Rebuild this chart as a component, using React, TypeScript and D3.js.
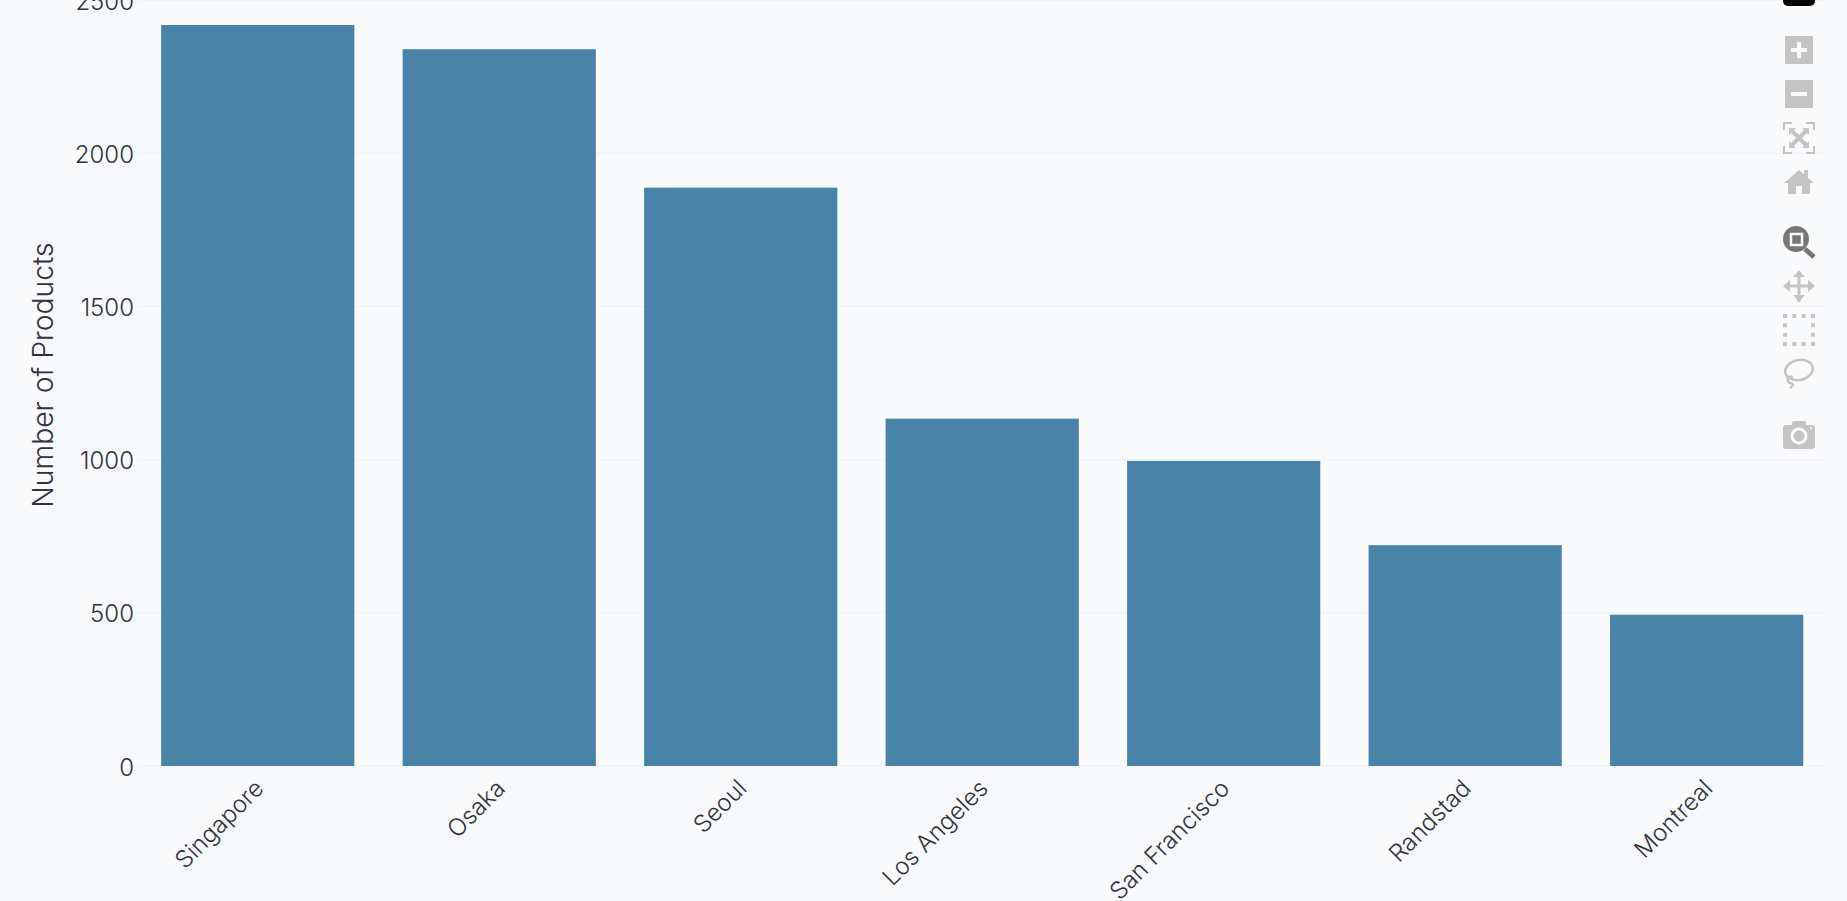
import { useEffect, useRef } from "react";
import * as d3 from "d3";

const cities = ["Singapore", "Osaka", "Seoul", "Los Angeles", "San Francisco", "Randstad", "Montreal"];
const products = [2419, 2340, 1888, 1134, 996, 721, 494];
const yTicks = [0, 500, 1000, 1500, 2000, 2500];

const width = 1847;
const height = 901;
const font = "Inter, sans-serif";
const textColor = "#33333b";
const barColor = "#4983a8";
const bg = "#f8fafc";
const iconLight = "#c4c4c4";

export default function App() {
  const ref = useRef<SVGSVGElement>(null);

  useEffect(() => {
    const svg = d3.select(ref.current);
    svg.selectAll("*").remove();
    svg.append("rect").attr("width", width).attr("height", height).attr("fill", bg);

    const x = d3.scaleBand().domain(cities).range([137, 1827.4]).paddingInner(0.2).paddingOuter(0.1);
    const y = d3.scaleLinear().domain([0, 2500]).range([766, 0.2]);

    // Grid
    svg.append("g")
      .selectAll("line")
      .data(yTicks)
      .join("line")
      .attr("x1", 138)
      .attr("x2", 1827)
      .attr("y1", d => y(d))
      .attr("y2", d => y(d))
      .attr("stroke", "#eff1f4")
      .attr("stroke-width", 1);

    // Bars
    svg.append("g")
      .selectAll("rect")
      .data(cities)
      .join("rect")
      .attr("x", d => x(d)!)
      .attr("y", (_, i) => y(products[i]))
      .attr("width", x.bandwidth())
      .attr("height", (_, i) => y(0) - y(products[i]))
      .attr("fill", barColor);

    // Y tick labels
    svg.append("g")
      .selectAll("text")
      .data(yTicks)
      .join("text")
      .attr("x", 134)
      .attr("y", d => y(d) + 1)
      .attr("dy", "0.36em")
      .attr("text-anchor", "end")
      .attr("font-family", font)
      .attr("font-size", 24)
      .attr("font-weight", 300)
      .attr("fill", textColor)
      .text(d => d);

    // X tick labels, rotated like the original
    svg.append("g")
      .selectAll("text")
      .data(cities)
      .join("text")
      .attr("transform", d => `translate(${x(d)! + x.bandwidth() / 2 - 4.5},${778}) rotate(-45)`)
      .attr("dy", "0.7em")
      .attr("text-anchor", "end")
      .attr("font-family", font)
      .attr("font-size", 24)
      .attr("font-weight", 300)
      .attr("fill", textColor)
      .text(d => d);

    svg.append("text")
      .attr("transform", "translate(43,375) rotate(-90)")
      .attr("dy", "0.36em")
      .attr("text-anchor", "middle")
      .attr("font-family", font)
      .attr("font-size", 28.3)
      .attr("font-weight", 300)
      .attr("fill", textColor)
      .text("Number of Products");

    // Modebar
    const bar = svg.append("g");
    bar.append("rect").attr("x", 1783).attr("y", -10).attr("width", 32).attr("height", 16).attr("rx", 5).attr("fill", "#000");
    // zoom in / zoom out
    bar.append("rect").attr("x", 1785).attr("y", 36).attr("width", 28).attr("height", 28).attr("fill", iconLight);
    bar.append("path").attr("d", "M1799 42v16M1791 50h16").attr("stroke", bg).attr("stroke-width", 4);
    bar.append("rect").attr("x", 1785).attr("y", 80).attr("width", 28).attr("height", 28).attr("fill", iconLight);
    bar.append("path").attr("d", "M1791 94h16").attr("stroke", bg).attr("stroke-width", 4);
    // autoscale
    bar.append("path")
      .attr("d", "M1784 130v-7h8M1806 123h8v7M1814 146v7h-8M1792 153h-8v-7")
      .attr("fill", "none").attr("stroke", iconLight).attr("stroke-width", 2);
    bar.append("path").attr("d", "M1792 131l14 14M1806 131l-14 14").attr("stroke", iconLight).attr("stroke-width", 4);
    bar.append("path").attr("d", "M1789 128h7l-7 7zM1809 128h-7l7 7zM1789 148h7l-7-7zM1809 148h-7l7-7z").attr("fill", iconLight);
    // home
    bar.append("path")
      .attr("d", "M1799 170l-15 13h4v11h8v-8h6v8h8v-11h4l-6-5v-8h-4v4z")
      .attr("fill", iconLight);
    // zoom tool (active)
    bar.append("circle").attr("cx", 1796).attr("cy", 239).attr("r", 13).attr("fill", "#777");
    bar.append("path").attr("d", "M1805 249l9 8").attr("stroke", "#777").attr("stroke-width", 5);
    bar.append("rect").attr("x", 1791).attr("y", 234).attr("width", 11).attr("height", 11).attr("fill", "#777").attr("stroke", bg).attr("stroke-width", 2.5);
    // pan
    bar.append("path").attr("d", "M1799 274v28M1785 286h28").attr("stroke", iconLight).attr("stroke-width", 3);
    bar.append("path")
      .attr("d", "M1799 270l6 7h-12zM1799 302l6-7h-12zM1783 286l7-6v12zM1815 286l-7-6v12z")
      .attr("fill", iconLight);
    // box select: square dots along the outline
    bar.append("rect").attr("x", 1785).attr("y", 316).attr("width", 28).attr("height", 28)
      .attr("fill", "none").attr("stroke", iconLight).attr("stroke-width", 4).attr("stroke-dasharray", "4 5.33").attr("stroke-dashoffset", 2);
    // lasso
    bar.append("ellipse").attr("cx", 1799).attr("cy", 370).attr("rx", 14).attr("ry", 10)
      .attr("transform", "rotate(-12 1799 370)").attr("fill", "none").attr("stroke", iconLight).attr("stroke-width", 2.5);
    bar.append("path").attr("d", "M1793 377c-6-2-7 5-3 6s4 2 0 5").attr("fill", "none").attr("stroke", iconLight).attr("stroke-width", 2.5);
    // camera
    bar.append("rect").attr("x", 1783).attr("y", 425).attr("width", 32).attr("height", 24).attr("rx", 3).attr("fill", iconLight);
    bar.append("rect").attr("x", 1792).attr("y", 421).attr("width", 14).attr("height", 6).attr("rx", 2).attr("fill", iconLight);
    bar.append("circle").attr("cx", 1799).attr("cy", 436).attr("r", 7).attr("fill", iconLight).attr("stroke", bg).attr("stroke-width", 3);
    bar.append("circle").attr("cx", 1811).attr("cy", 428).attr("r", 1).attr("fill", bg);
  }, []);

  return <svg ref={ref} width={width} height={height} style={{ position: "absolute", left: 0, top: 0, display: "block" }} />;
}
